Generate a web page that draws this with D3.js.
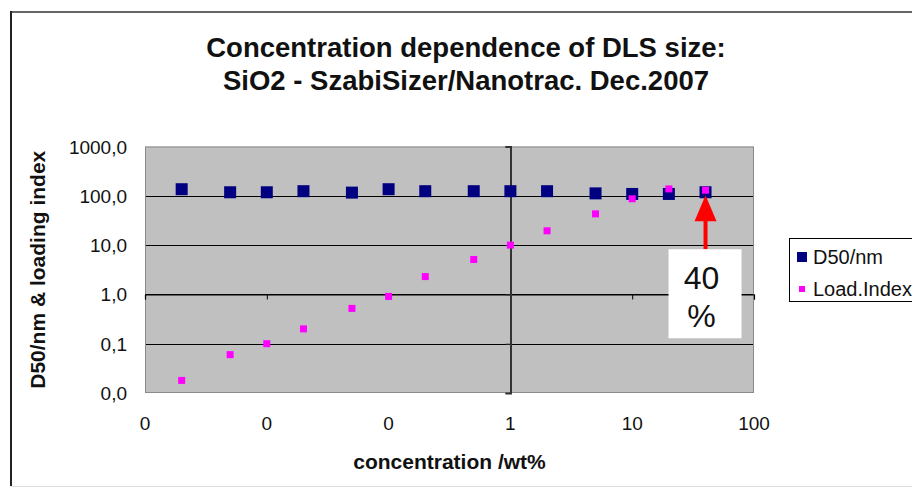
<!DOCTYPE html>
<html>
<head>
<meta charset="utf-8">
<script src="https://cdn.jsdelivr.net/npm/d3@7/dist/d3.min.js"></script>
<style>
  html, body { margin: 0; padding: 0; background: #fff; }
  svg { display: block; font-family: "Liberation Sans", Arial, sans-serif; }
</style>
</head>
<body>
<svg id="chart" width="912" height="487"></svg>
<script>
// ---- data ----
const titleLines = ["Concentration dependence of DLS size:", "SiO2 - SzabiSizer/Nanotrac. Dec.2007"];
const concentration = [0.002, 0.005, 0.01, 0.02, 0.05, 0.1, 0.2, 0.5, 1, 2, 5, 10, 20, 40];
const d50 = [136, 118, 118, 124, 116, 136, 124, 124, 124, 124, 112, 109, 109, 118];
const loadIndex = [0.018, 0.060, 0.10, 0.20, 0.52, 0.91, 2.3, 5.1, 10, 19.5, 43, 87, 138, 130];
const xTicks = [0.001, 0.01, 0.1, 1, 10, 100];
const yTicks = [0.01, 0.1, 1, 10, 100, 1000];
const seriesNames = ["D50/nm", "Load.Index"];
const annotationText = ["40", "%"];
const annotationIndex = 13;

// ---- layout ----
const svg = d3.select("#chart");
const W = 912, H = 487;
const plot = { left: 145, right: 754, top: 146.5, bottom: 393 };
const colors = { d50: "#000080", load: "#ff00ff", bg: "#c0c0c0" };

const x = d3.scaleLog().domain([0.001, 100]).range([plot.left, plot.right]);
const y = d3.scaleLog().domain([0.01, 1000]).range([plot.bottom, plot.top]);
const locale = d3.formatLocale({ decimal: ",", thousands: ".", grouping: [3], currency: ["", ""] });
const yFmt = locale.format(".1f");
const xFmt = d3.format(".0f");

// outer chart frame
svg.append("rect").attr("x", 0).attr("y", 0).attr("width", W).attr("height", H).attr("fill", "#fff");
svg.append("line").attr("x1", 11).attr("x2", W).attr("y1", 12).attr("y2", 12)
  .attr("stroke", "#666").attr("stroke-width", 2);
svg.append("line").attr("x1", 11).attr("x2", 11).attr("y1", 11).attr("y2", 486)
  .attr("stroke", "#222").attr("stroke-width", 2);
svg.append("line").attr("x1", 11).attr("x2", W).attr("y1", 486.5).attr("y2", 486.5)
  .attr("stroke", "#ddd").attr("stroke-width", 1);

// title
svg.append("g").selectAll("text").data(titleLines).join("text")
  .attr("x", 466).attr("y", (d, i) => 57 + i * 33)
  .attr("text-anchor", "middle")
  .attr("font-size", 27.5).attr("font-weight", "bold").attr("fill", "#111")
  .text(d => d);

// plot background
svg.append("rect")
  .attr("x", plot.left).attr("y", plot.top)
  .attr("width", plot.right - plot.left).attr("height", plot.bottom - plot.top)
  .attr("fill", colors.bg);

// horizontal gridlines
svg.append("g").selectAll("line").data(yTicks.filter(v => v > 0.01 && v < 1000)).join("line")
  .attr("x1", plot.left).attr("x2", plot.right)
  .attr("y1", d => Math.round(y(d)) + 0.5).attr("y2", d => Math.round(y(d)) + 0.5)
  .attr("stroke", "#000").attr("stroke-width", 1.2);

// plot border
svg.append("rect")
  .attr("x", plot.left + 0.5).attr("y", plot.top + 0.5)
  .attr("width", plot.right - plot.left - 1).attr("height", plot.bottom - plot.top - 1)
  .attr("fill", "none").attr("stroke", "#8a8a8a").attr("stroke-width", 1);

// x axis crossing at y = 1 (ticks only, labels low)
const xAxisG = svg.append("g").attr("transform", `translate(0,${Math.round(y(1)) + 0.5})`)
  .call(d3.axisBottom(x).tickValues(xTicks).tickSize(5).tickFormat(""));
xAxisG.select(".domain").attr("stroke", "#000").attr("stroke-width", 1.2);
xAxisG.selectAll(".tick line").attr("stroke", "#000");

// y axis crossing at x = 1
const yAxisG = svg.append("g").attr("transform", `translate(${Math.round(x(1)) + 0.5},0)`)
  .call(d3.axisLeft(y).tickValues(yTicks).tickSize(5).tickFormat(""));
yAxisG.select(".domain").attr("stroke", "#333").attr("stroke-width", 2);
yAxisG.selectAll(".tick line").attr("stroke", "#333");

// tick labels (low position)
svg.append("g").selectAll("text").data(yTicks).join("text")
  .attr("x", 127).attr("y", d => y(d) + 7)
  .attr("text-anchor", "end").attr("font-size", 19).attr("fill", "#111")
  .text(d => yFmt(d));
svg.append("g").selectAll("text").data(xTicks).join("text")
  .attr("x", d => x(d)).attr("y", 430)
  .attr("text-anchor", "middle").attr("font-size", 19).attr("fill", "#111")
  .text(d => xFmt(d));

// axis titles
svg.append("text")
  .attr("x", (plot.left + plot.right) / 2).attr("y", 469)
  .attr("text-anchor", "middle").attr("font-size", 21).attr("font-weight", "bold").attr("fill", "#111")
  .text("concentration /wt%");
svg.append("text")
  .attr("transform", `translate(45,${(plot.top + plot.bottom) / 2}) rotate(-90)`)
  .attr("text-anchor", "middle").attr("font-size", 21).attr("font-weight", "bold").attr("fill", "#111")
  .text("D50/nm & loading index");

// series
const d50Size = 12, loadSize = 7;
svg.append("g").selectAll("rect").data(concentration.map((c, i) => [c, d50[i]])).join("rect")
  .attr("x", d => x(d[0]) - d50Size / 2).attr("y", d => y(d[1]) - d50Size / 2)
  .attr("width", d50Size).attr("height", d50Size).attr("fill", colors.d50);
svg.append("g").selectAll("rect").data(concentration.map((c, i) => [c, loadIndex[i]])).join("rect")
  .attr("x", d => x(d[0]) - loadSize / 2).attr("y", d => y(d[1]) - loadSize / 2)
  .attr("width", loadSize).attr("height", loadSize).attr("fill", colors.load);

// annotation: arrow + "40 %" box
const ax = x(concentration[annotationIndex]);
const tipY = y(d50[annotationIndex]) + 3;
const arrow = svg.append("g");
arrow.append("rect").attr("x", ax - 2).attr("y", tipY + 24).attr("width", 4).attr("height", 30).attr("fill", "#ff0000");
arrow.append("path")
  .attr("d", `M${ax},${tipY} L${ax - 11},${tipY + 26} L${ax + 11},${tipY + 26} Z`)
  .attr("fill", "#ff0000");
const boxTop = tipY + 54;
svg.append("rect").attr("x", ax - 37).attr("y", boxTop).attr("width", 73).attr("height", 89).attr("fill", "#fff");
svg.append("g").selectAll("text").data(annotationText).join("text")
  .attr("x", ax - 4).attr("y", (d, i) => boxTop + 40 + i * 38)
  .attr("text-anchor", "middle").attr("font-size", 32).attr("fill", "#111")
  .text(d => d);

// legend
const lg = svg.append("g");
lg.append("rect").attr("x", 789.5).attr("y", 238.5).attr("width", 140).attr("height", 63)
  .attr("fill", "#fff").attr("stroke", "#000").attr("stroke-width", 1);
const legendItems = [
  { name: seriesNames[0], color: colors.d50, size: 10, cy: 257 },
  { name: seriesNames[1], color: colors.load, size: 6, cy: 289 }
];
legendItems.forEach(it => {
  lg.append("rect").attr("x", 802 - it.size / 2).attr("y", it.cy - it.size / 2)
    .attr("width", it.size).attr("height", it.size).attr("fill", it.color);
  lg.append("text").attr("x", 813).attr("y", it.cy + 7)
    .attr("font-size", 20).attr("fill", "#111").text(it.name);
});
</script>
</body>
</html>
